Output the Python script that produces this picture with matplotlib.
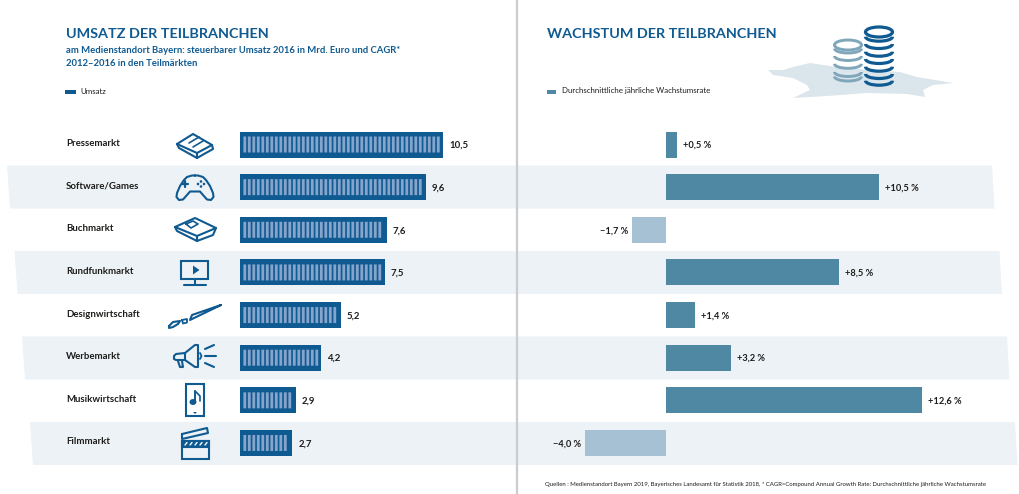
"""Umsatz und Wachstum der Teilbranchen am Medienstandort Bayern."""

import matplotlib

matplotlib.use("Agg")
import matplotlib.pyplot as plt
from matplotlib.patches import Arc, Circle, Ellipse, Polygon, Rectangle

plt.rcParams["font.family"] = ["Lato", "DejaVu Sans"]

WIDTH, HEIGHT = 1020, 494
DARK_BLUE = "#0f5a91"
STRIPE = "#85a5cc"
TEAL = "#4e88a3"
LIGHT_TEAL = "#a5c1d3"
BAND = "#edf2f6"
TEXT = "#1d1d1b"

categories = [
    "Pressemarkt",
    "Software/Games",
    "Buchmarkt",
    "Rundfunkmarkt",
    "Designwirtschaft",
    "Werbemarkt",
    "Musikwirtschaft",
    "Filmmarkt",
]
umsatz = [10.5, 9.6, 7.6, 7.5, 5.2, 4.2, 2.9, 2.7]
umsatz_labels = ["10,5", "9,6", "7,6", "7,5", "5,2", "4,2", "2,9", "2,7"]
wachstum = [0.5, 10.5, -1.7, 8.5, 1.4, 3.2, 12.6, -4.0]
wachstum_labels = [
    "+0,5 %",
    "+10,5 %",
    "\u22121,7 %",
    "+8,5 %",
    "+1,4 %",
    "+3,2 %",
    "+12,6 %",
    "\u22124,0 %",
]

fig = plt.figure(figsize=(WIDTH / 100, HEIGHT / 100), dpi=100, facecolor="white")


def pixel_axes(left, top, right, bottom, zorder):
    ax = fig.add_axes(
        [left / WIDTH, 1 - bottom / HEIGHT, (right - left) / WIDTH, (bottom - top) / HEIGHT],
        zorder=zorder,
    )
    ax.axis("off")
    return ax


# Hintergrund, Texte und Icons in Pixelkoordinaten
bg = pixel_axes(0, 0, WIDTH, HEIGHT, 1)
bg.set_xlim(0, WIDTH)
bg.set_ylim(HEIGHT, 0)
fg = pixel_axes(0, 0, WIDTH, HEIGHT, 3)
fg.set_xlim(0, WIDTH)
fg.set_ylim(HEIGHT, 0)

for top, shift in [(165.5, 0), (251, 7.5), (336.5, 15), (422, 23)]:
    bg.add_patch(
        Polygon(
            [
                (7 + shift, top),
                (992 + shift, top),
                (994.5 + shift, top + 43),
                (10 + shift, top + 43),
            ],
            facecolor=BAND,
            edgecolor="none",
        )
    )
bg.plot([517, 517], [0, HEIGHT], color="#c9cdd1", lw=1.6)

fg.text(66, 33.5, "UMSATZ DER TEILBRANCHEN", color=DARK_BLUE, fontsize=10.4, fontweight="bold", va="center")
fg.text(547, 33.5, "WACHSTUM DER TEILBRANCHEN", color=DARK_BLUE, fontsize=10.4, fontweight="bold", va="center")
fg.text(
    66,
    50.5,
    "am Medienstandort Bayern: steuerbarer Umsatz 2016 in Mrd. Euro und CAGR*",
    color=DARK_BLUE,
    fontsize=6.8,
    fontweight="bold",
    va="center",
)
fg.text(66, 63, "2012\u20132016 in den Teilmärkten", color=DARK_BLUE, fontsize=6.8, fontweight="bold", va="center")

fg.add_patch(Rectangle((65.5, 90), 10.5, 4.5, facecolor=DARK_BLUE, edgecolor="none"))
fg.text(80, 91, "Umsatz", color=TEXT, fontsize=5.7, va="center")
fg.add_patch(Rectangle((547, 90), 9.5, 4.5, facecolor=TEAL, edgecolor="none"))
fg.text(562, 91, "Durchschnittliche jährliche Wachstumsrate", color=TEXT, fontsize=5.7, va="center")

fg.text(
    545,
    484,
    "Quellen : Medienstandort Bayern 2019, Bayerisches Landesamt für Statistik 2018, "
    "* CAGR=Compound Annual Growth Rate: Durchschnittliche jährliche Wachstumsrate",
    color=TEXT,
    fontsize=4.3,
    va="center",
)


# Balken links und rechts
ROW_0, ROW_STEP = 144.5, 42.64
top_px, bottom_px = ROW_0 - ROW_STEP / 2, ROW_0 + 7.5 * ROW_STEP
rows = list(range(len(categories)))
BAR_H = 26 / ROW_STEP

ax_l = pixel_axes(240, top_px, 500, bottom_px, 2)
ax_l.set_xlim(0, 260 / 19.33)
ax_l.set_ylim(7.5, -0.5)
ax_l.barh(rows, umsatz, height=BAR_H, color=DARK_BLUE)

# helle Streifen in den Umsatzbalken
pitch = 4.5 / 19.33
for row, value in zip(rows, umsatz):
    x = 3.4 / 19.33
    xs = []
    while x + 2.8 / 19.33 < value - 2.4 / 19.33:
        xs.append(x)
        x += pitch
    stripes = ax_l.barh([row] * len(xs), [2.8 / 19.33] * len(xs), left=xs, height=16 / ROW_STEP, color=STRIPE)
    for stripe in stripes:
        stripe.set_snap(False)

for row, value, label, name in zip(rows, umsatz, umsatz_labels, categories):
    ax_l.text(value + 6 / 19.33, row + 0.02, label, color=TEXT, fontsize=6.9, fontweight="bold", va="center")
    fg.text(66, ROW_0 + row * ROW_STEP - 1, name, color=TEXT, fontsize=6.9, fontweight="bold", va="center")

ax_r = pixel_axes(520, top_px, 1015, bottom_px, 2)
ax_r.set_xlim(-146.5 / 20.25, 348.5 / 20.25)
ax_r.set_ylim(7.5, -0.5)
ax_r.barh(rows, wachstum, height=BAR_H, color=[TEAL if v > 0 else LIGHT_TEAL for v in wachstum])
for row, value, label in zip(rows, wachstum, wachstum_labels):
    offset = 6 / 20.25 if value > 0 else -4 / 20.25
    ax_r.text(
        value + offset,
        row + 0.02,
        label,
        color=TEXT,
        fontsize=6.7,
        fontweight="bold",
        va="center",
        ha="left" if value > 0 else "right",
    )


# Icons
def line(pts, color=DARK_BLUE, lw=1.5, closed=False):
    if closed:
        pts = pts + pts[:1]
    fg.plot([p[0] for p in pts], [p[1] for p in pts], color=color, lw=lw, solid_capstyle="round", solid_joinstyle="round")


# Zeitung
line([(177, 144), (193, 134), (212, 145), (197, 153)], closed=True)
line([(197, 153), (197, 158), (213, 149), (212, 145)])
line([(177, 144), (179, 148), (197, 158)])
line([(189, 143), (199, 137)], lw=1.2)
line([(193, 147), (203, 141)], lw=1.2)

# Gamepad
pad_right = [(195, 175.5), (198, 175.5), (203, 177), (206, 180), (210, 186), (213, 193), (213.5, 197), (211, 200), (207, 199.5), (203, 195), (200, 191.5), (195, 191.5)]
line(pad_right + [(390 - x, y) for x, y in reversed(pad_right)])
line([(185, 181), (185, 187)], lw=1.6)
line([(182, 184), (188, 184)], lw=1.6)
for x, y in [(201, 181.5), (204, 184), (198, 184), (201, 186.5)]:
    fg.add_patch(Circle((x, y), 0.6, color=DARK_BLUE))

# Buch
line([(175, 227), (195, 218), (216, 228), (197, 236)], closed=True)
line([(175, 227), (177, 231), (197, 241), (213, 235), (216, 228)])
line([(197, 236), (197, 241)])
line([(186, 224), (193, 221), (198, 224), (191, 228)], closed=True, lw=1.2)

# Fernseher
fg.add_patch(Rectangle((181, 261), 27, 18, facecolor="none", edgecolor=DARK_BLUE, lw=1.5))
fg.add_patch(Polygon([(193, 265.5), (199.5, 270), (193, 274.5)], facecolor=DARK_BLUE, edgecolor="none"))
line([(195, 279), (195, 284)])
line([(184, 284.5), (206, 284.5)])

# Pinsel
line([(221, 305), (192, 315), (190, 320)], closed=True)
line([(182, 320), (187, 319), (187, 322.5), (183, 323.5)], closed=True, lw=1.3)
line([(169, 326), (173, 322), (180, 321), (178, 324), (173, 327), (169, 328)], closed=True)

# Megafon
line([(185, 353), (195, 345), (198, 345), (198, 367), (195, 367), (185, 360)], closed=True)
line([(185, 353), (176, 354), (174, 356), (174, 359), (176, 360), (185, 360)])
line([(178, 361), (180, 367), (183, 367), (182, 361)])
line([(200, 353), (201.5, 356), (200, 359)], lw=1.3)
line([(205, 349), (214, 345)])
line([(205, 356), (216, 356)])
line([(205, 363), (214, 367)])

# Smartphone
fg.add_patch(Rectangle((186, 383.5), 18, 32.5, facecolor="none", edgecolor=DARK_BLUE, lw=1.5))
line([(195, 391), (195, 402)], lw=1.4)
line([(195, 391), (200, 396), (200, 401)], lw=1.2)
fg.add_patch(Ellipse((193, 402), 5.5, 4.5, color=DARK_BLUE))
fg.add_patch(Polygon([(193, 412), (197, 412), (195, 414)], facecolor=DARK_BLUE, edgecolor="none"))

# Filmklappe
line([(182, 434), (207, 428), (208, 433), (182, 439)], closed=True)
fg.add_patch(Rectangle((182, 441), 27, 18, facecolor="none", edgecolor=DARK_BLUE, lw=1.5))
fg.add_patch(Rectangle((182, 441), 27, 5.5, facecolor=DARK_BLUE, edgecolor=DARK_BLUE, lw=1.5))
for x in range(185, 208, 5):
    line([(x + 2, 442.5), (x, 445)], color="white", lw=1)

# Bayernkarte und Muenzen
bayern = [
    (768, 70), (783, 70), (793, 67), (810, 63), (837, 67), (870, 70), (900, 72), (917, 77), (953, 83),
    (933, 85), (923, 90), (925, 97), (907, 94), (867, 93), (827, 96), (793, 98), (810, 90), (807, 85), (793, 78), (773, 75),
]
bg.add_patch(Polygon(bayern, facecolor="#dbe5ec", edgecolor="none"))

COIN_LIGHT = "#7fa6ba"
fg.add_patch(Ellipse((848, 45), 27, 10, facecolor="none", edgecolor=COIN_LIGHT, lw=2.1))
for y in [48.5, 56, 63.8, 72, 76.5]:
    fg.add_patch(Arc((848, y), 27, 9, theta1=0, theta2=180, edgecolor=COIN_LIGHT, lw=2.1))
fg.add_patch(Ellipse((879, 32), 27, 10, facecolor="none", edgecolor=DARK_BLUE, lw=2.3))
for y in [36.7, 44, 51.7, 59, 66.7, 74, 80.7]:
    fg.add_patch(Arc((879, y), 27, 9, theta1=0, theta2=180, edgecolor=DARK_BLUE, lw=2.3))

fig.savefig("out.png", dpi=100)
